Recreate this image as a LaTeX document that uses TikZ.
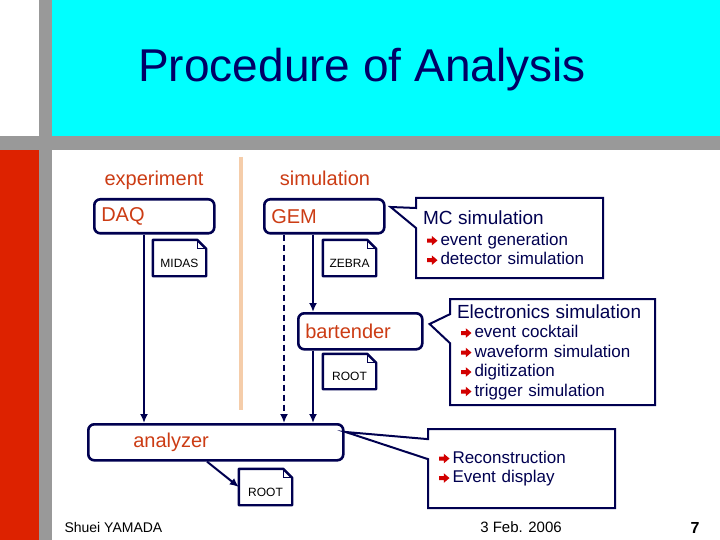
\documentclass[tikz,border=0pt]{standalone}
\usepackage{fontspec}
\setmainfont{Liberation Sans}
\usetikzlibrary{arrows.meta,shapes.callouts}
\definecolor{navy}{RGB}{0,0,80}
\definecolor{titleblue}{RGB}{0,0,102}
\definecolor{slidecyan}{RGB}{0,255,255}
\definecolor{bargray}{RGB}{153,153,153}
\definecolor{barred}{RGB}{221,34,0}
\definecolor{stagered}{RGB}{204,60,20}
\definecolor{dividertan}{RGB}{245,205,170}
\definecolor{bulred}{RGB}{210,0,0}
\newcommand{\bul}{\hspace*{4pt}\tikz[x=1pt,y=1pt,baseline=0pt]\fill[bulred,line join=round] (0,2.6) -- (4.8,2.6) -- (4.8,-0.2) -- (10.5,4.6) -- (4.8,9.4) -- (4.8,6.6) -- (0,6.6) -- cycle;\hspace{3pt}}
\newcommand{\hd}[1]{{\fontsize{19}{22}\selectfont #1}}
\tikzset{
  stage/.style={draw=navy,line width=2.6pt,rounded corners=6pt,fill=white,anchor=north west,minimum height=34pt,inner xsep=7pt,inner ysep=0pt,align=left,text=stagered,font=\fontsize{20}{24}\selectfont},
  head/.style={anchor=base,text=stagered,font=\fontsize{20}{24}\selectfont},
  doc/.style={minimum width=53pt,minimum height=36pt,inner sep=0pt,text height=18pt,text depth=0pt,font=\fontsize{12}{14}\selectfont},
  docline/.style={draw=navy,line width=2.4pt,line join=round},
  note/.style={rectangle callout,draw=navy,line width=2pt,fill=white,inner xsep=7pt,inner ysep=0pt,align=left,text=navy,font=\fontsize{17}{19.5}\selectfont},
  flow/.style={navy,line width=2pt,->},
  foot/.style={anchor=base,font=\fontsize{15}{18}\selectfont}
}
\begin{document}
\begin{tikzpicture}[x=1pt,y=-1pt,>={Latex[length=9pt,width=8pt]}]
\useasboundingbox (0,0) rectangle (720,540);
\fill[white] (0,0) rectangle (720,540);
\fill[slidecyan] (52,0) rectangle (720,136);
\fill[bargray] (39,0) rectangle (52,540);
\fill[bargray] (0,136) rectangle (720,150);
\fill[barred] (0,150) rectangle (39,540);
\draw (362,82) node[anchor=base,text=titleblue,font=\fontsize{46}{50}\selectfont] (title) {Procedure of Analysis};

\draw (154,186) node[head] (exp) {experiment};
\draw (325,186) node[head] (sim) {simulation};
\draw[dividertan,line width=4pt] (241,157) -- (241,410);

\draw (93,198) node[stage,text width=106pt] (daq) {DAQ};
\draw (263,198) node[stage,text width=106pt] (gem) {GEM};
\draw (297,312) node[stage,minimum height=36pt,text width=110pt] (bartender) {bartender};
\draw (87,423) node[stage,minimum height=36pt,text width=241pt] (analyzer) {\hspace*{38pt}analyzer};

\draw (179.5,258) node[doc] (midas) {MIDAS};
\draw (349.5,258) node[doc] (zebra) {ZEBRA};
\draw (349.5,371.5) node[doc,minimum height=35pt] (rootbt) {ROOT};
\draw (265.5,487) node[doc] (rootout) {ROOT};
\foreach \d in {midas,zebra,rootbt,rootout} {
  \draw[docline] (\d.south west) -- (\d.north west) -- ([xshift=-9pt]\d.north east) -- ([yshift=-9pt]\d.north east) -- (\d.south east) -- cycle;
  \draw[navy,line width=1pt] ([xshift=-9pt]\d.north east) -- ([xshift=-9pt,yshift=-9pt]\d.north east) -- ([yshift=-9pt]\d.north east);
}

\draw[flow] ([xshift=51pt]daq.south west) -- ([xshift=51pt]daq.south west |- analyzer.north);
\draw[flow,dash pattern=on 6pt off 4pt] ([xshift=21pt]gem.south west) -- ([xshift=21pt]gem.south west |- analyzer.north);
\draw[flow] ([xshift=50pt]gem.south west) -- ([xshift=50pt]gem.south west |- bartender.north);
\draw[flow] ([xshift=16pt]bartender.south west) -- ([xshift=16pt]bartender.south west |- analyzer.north);
\draw[flow] ([xshift=120pt]analyzer.south west) -- (rootout.west);

\coordinate (gemtip) at ([xshift=5pt,yshift=-9pt]gem.north east);
\coordinate (bartip) at ([xshift=6pt,yshift=-12pt]bartender.north east);
\coordinate (anatip) at ([xshift=1pt,yshift=-9pt]analyzer.north east);
\draw (509.5,238) node[note,callout absolute pointer=(gemtip),callout pointer width=20pt,minimum height=80pt,text width=173pt] (mcsim) {\hd{MC simulation}\\[1pt]\bul event generation\\\bul detector simulation};
\draw (552.5,352) node[note,callout absolute pointer=(bartip),callout pointer width=29pt,minimum height=106pt,text width=191pt] (elecsim) {\hd{Electronics simulation}\\\bul event cocktail\\\bul waveform simulation\\\bul digitization\\\bul trigger simulation};
\draw (521.5,468.5) node[note,callout absolute pointer=(anatip),callout pointer width=20pt,minimum height=79pt,text width=173pt] (recon) {\bul Reconstruction\\\bul Event display};

\draw (61,532) node[foot,anchor=base west,font=\fontsize{14}{16}\selectfont] (author) {Shuei YAMADA};
\draw (521,532) node[foot] (date) {3 Feb. 2006};
\draw (695,533) node[foot,font=\fontsize{16}{18}\selectfont\bfseries] (page) {7};
\end{tikzpicture}
\end{document}
